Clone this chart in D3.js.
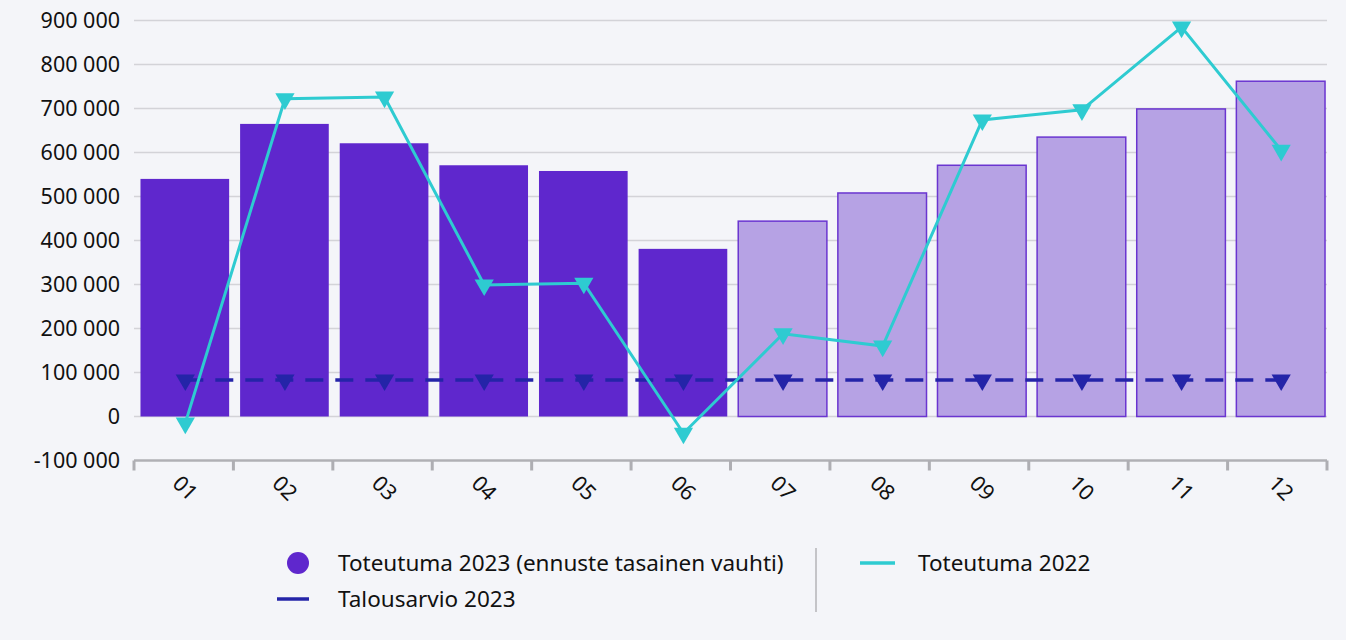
<!DOCTYPE html>
<html>
<head>
<meta charset="utf-8">
<script src="https://cdn.jsdelivr.net/npm/d3@7"></script>
<style>
  body { margin: 0; background: #f4f5f9; }
  svg { display: block; font-family: "Noto Sans", "Open Sans", sans-serif; }
</style>
</head>
<body>
<svg id="chart" width="1346" height="640"></svg>
<script>
// data
var months = ["01","02","03","04","05","06","07","08","09","10","11","12"];
var actual2023 = [540000, 665000, 621000, 571000, 558000, 381000, 444000, 508000, 571000, 635000, 699000, 762000];
var isForecast = [false, false, false, false, false, false, true, true, true, true, true, true];
var actual2022 = [-15000, 722000, 726000, 299000, 303000, -38000, 188000, 160000, 674000, 697000, 885000, 605000];
var budget2023 = [83000, 83000, 83000, 83000, 83000, 83000, 83000, 83000, 83000, 83000, 83000, 83000];
var yTicks = [-100000, 0, 100000, 200000, 300000, 400000, 500000, 600000, 700000, 800000, 900000];

var barColor = "#5f27cd";
var forecastFill = "#b6a2e4";
var cyan = "#2ecbd1";
var navy = "#2424a8";

var svg = d3.select("#chart");
var plotLeft = 134, plotRight = 1327, plotTop = 20.5, plotBottom = 460.5;

var x = d3.scaleBand().domain(months).range([135.5, 1331]).paddingInner(0.1).paddingOuter(0.05);
var y = d3.scaleLinear().domain([-100000, 900000]).range([plotBottom, plotTop]);

var fmt = function(v){ return d3.format(",")(v).replace(/,/g, " ").replace("\u2212", "-"); };

// gridlines
svg.append("g").selectAll("line")
  .data(yTicks.filter(function(d){ return d > -100000; }))
  .enter().append("line")
    .attr("x1", plotLeft).attr("x2", plotRight)
    .attr("y1", function(d){ return y(d); })
    .attr("y2", function(d){ return y(d); })
    .style("stroke", "#d3d3d8")
    .style("stroke-width", 1.5);

// y labels
svg.append("g").selectAll("text")
  .data(yTicks)
  .enter().append("text")
    .attr("x", 120)
    .attr("y", function(d){ return y(d); })
    .attr("dy", "0.35em")
    .attr("text-anchor", "end")
    .attr("font-size", 21.5)
    .attr("fill", "#111")
    .text(function(d){ return fmt(d); });

// bars
svg.append("g").selectAll("rect")
  .data(months)
  .enter().append("rect")
    .attr("x", function(d){ return x(d); })
    .attr("width", x.bandwidth() - 1)
    .attr("y", function(d, i){ return y(actual2023[i]); })
    .attr("height", function(d, i){ return y(0) - y(actual2023[i]); })
    .style("fill", function(d, i){ return isForecast[i] ? forecastFill : barColor; })
    .style("stroke", function(d, i){ return isForecast[i] ? "#6a35d0" : "none"; })
    .style("stroke-width", 1.5);

// x axis line + ticks
svg.append("line")
  .attr("x1", plotLeft).attr("x2", plotRight)
  .attr("y1", plotBottom).attr("y2", plotBottom)
  .style("stroke", "#b0b0b5").style("stroke-width", 2.5);

var bounds = d3.range(months.length + 1).map(function(i){ return plotLeft + i * (plotRight - plotLeft) / months.length; });
svg.append("g").selectAll("line")
  .data(bounds)
  .enter().append("line")
    .attr("x1", function(d){ return d; }).attr("x2", function(d){ return d; })
    .attr("y1", plotBottom).attr("y2", plotBottom + 10)
    .style("stroke", "#aeaeb3").style("stroke-width", 3);

// x labels rotated
svg.append("g").selectAll("text")
  .data(months)
  .enter().append("text")
    .attr("transform", function(d){ return "translate(" + (x(d) + x.bandwidth() / 2) + "," + 488 + ") rotate(45)"; })
    .attr("text-anchor", "middle")
    .attr("dy", "0.35em")
    .attr("font-size", 21.5)
    .attr("fill", "#111")
    .text(function(d){ return d; });

var cx = function(d, i){ return x(months[i]) + x.bandwidth() / 2; };
var tri = d3.symbol().type(d3.symbolTriangle).size(160);

// budget line
svg.append("path")
  .datum(budget2023)
  .attr("d", d3.line().x(cx).y(function(d){ return y(d); }))
  .style("fill", "none")
  .style("stroke", navy)
  .style("stroke-width", 3.5)
  .style("stroke-dasharray", "18,12");

svg.append("g").selectAll("path")
  .data(budget2023)
  .enter().append("path")
    .attr("d", tri)
    .attr("transform", function(d, i){ return "translate(" + cx(d, i) + "," + y(d) + ") rotate(180)"; })
    .style("fill", navy);

// 2022 line
svg.append("path")
  .datum(actual2022)
  .attr("d", d3.line().x(cx).y(function(d){ return y(d); }))
  .style("fill", "none")
  .style("stroke", cyan)
  .style("stroke-width", 3);

svg.append("g").selectAll("path")
  .data(actual2022)
  .enter().append("path")
    .attr("d", tri)
    .attr("transform", function(d, i){ return "translate(" + cx(d, i) + "," + y(d) + ") rotate(180)"; })
    .style("fill", cyan);

// legend
var legend = svg.append("g").attr("font-size", 22.5).attr("fill", "#111");
legend.append("circle").attr("cx", 298).attr("cy", 563).attr("r", 11).style("fill", barColor);
legend.append("text").attr("x", 338).attr("y", 563).attr("dy", "0.35em").text("Toteutuma 2023 (ennuste tasainen vauhti)");
legend.append("line").attr("x1", 277).attr("x2", 309).attr("y1", 599).attr("y2", 599)
  .style("stroke", navy).style("stroke-width", 3.5);
legend.append("text").attr("x", 338).attr("y", 599).attr("dy", "0.35em").text("Talousarvio 2023");
legend.append("line").attr("x1", 816).attr("x2", 816).attr("y1", 548).attr("y2", 612)
  .style("stroke", "#c4c4c8").style("stroke-width", 2);
legend.append("line").attr("x1", 860).attr("x2", 895).attr("y1", 563).attr("y2", 563)
  .style("stroke", cyan).style("stroke-width", 3.5);
legend.append("text").attr("x", 918).attr("y", 563).attr("dy", "0.35em").text("Toteutuma 2022");
</script>
</body>
</html>
